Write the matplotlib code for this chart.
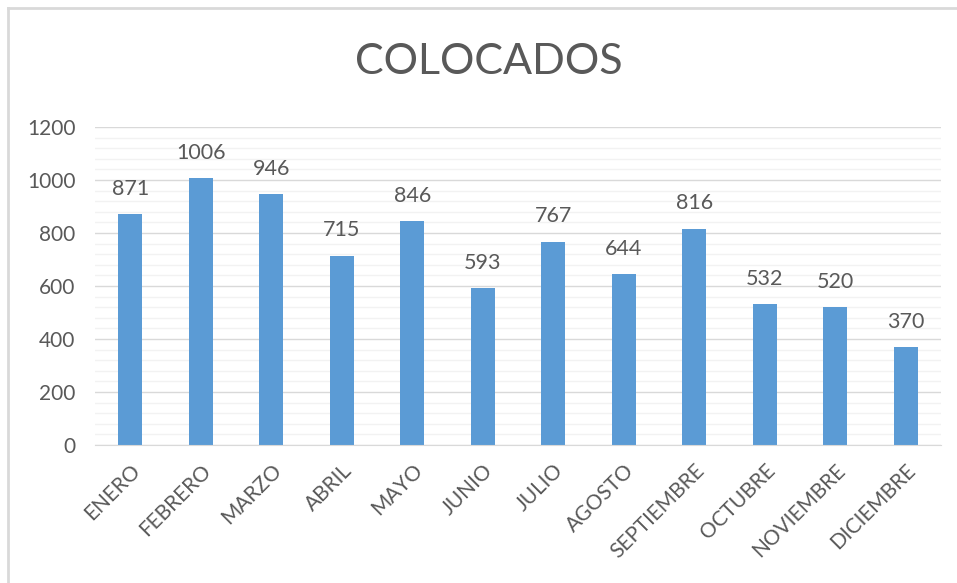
import matplotlib
matplotlib.use("Agg")
import matplotlib.pyplot as plt
from matplotlib.lines import Line2D
import numpy as np

months = ["ENERO", "FEBRERO", "MARZO", "ABRIL", "MAYO", "JUNIO", "JULIO",
          "AGOSTO", "SEPTIEMBRE", "OCTUBRE", "NOVIEMBRE", "DICIEMBRE"]
values = [871, 1006, 946, 715, 846, 593, 767, 644, 816, 532, 520, 370]
yticks = [0, 200, 400, 600, 800, 1000, 1200]
title = "COLOCADOS"

plt.rcParams['font.family'] = ['Lato', 'DejaVu Sans']
W, H = 957, 583
fig = plt.figure(figsize=(W / 100, H / 100), dpi=100)
ax = fig.add_axes([95 / W, 1 - 445 / H, (941 - 95) / W, (445 - 127) / H])

x = np.arange(len(months))
ax.bar(x, values, width=0.34, color="#5B9BD5", zorder=3)
ax.set_xlim(-0.5, len(months) - 0.5)
ax.set_ylim(0, 1200)
ax.set_yticks(yticks)
ax.set_yticks(np.arange(0, 1201, 40), minor=True)
ax.grid(axis="y", which="major", color="#D9D9D9", linewidth=1, zorder=0)
ax.grid(axis="y", which="minor", color="#F2F2F2", linewidth=1, zorder=0)
ax.tick_params(axis="y", which="both", length=0, pad=14, labelsize=15, labelcolor="#595959")
ax.tick_params(axis="x", length=0, pad=11, labelsize=15, labelcolor="#595959")
ax.set_xticks(x)
ax.set_xticklabels(months, rotation=45, ha="right", va="top", rotation_mode="anchor")
for s in ["top", "right", "left"]:
    ax.spines[s].set_visible(False)
ax.spines["bottom"].set_color("#D9D9D9")
ax.spines["bottom"].set_zorder(4)

for xi, v in zip(x, values):
    ax.annotate(str(v), (xi, v), xytext=(0, 11), textcoords="offset points",
                ha="center", va="bottom", fontsize=15.5, color="#595959")

fig.text(489 / W, 1 - 62 / H, title, ha="center", va="center", fontsize=31,
         color="#595959")

fig.add_artist(Line2D([8 / W, 1], [1 - 8 / H, 1 - 8 / H], color="#D9D9D9", linewidth=2, transform=fig.transFigure))
fig.add_artist(Line2D([8 / W, 8 / W], [0, 1 - 8 / H], color="#D9D9D9", linewidth=2, transform=fig.transFigure))

fig.savefig("out.png", dpi=100, facecolor="white")
